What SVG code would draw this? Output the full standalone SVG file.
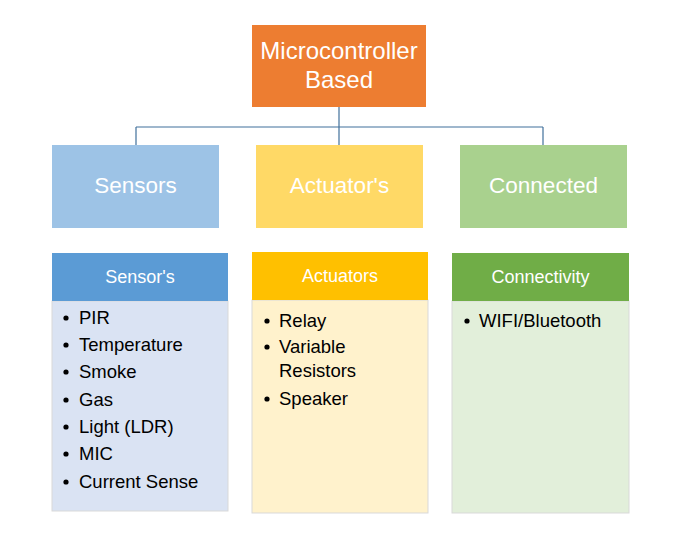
<svg xmlns="http://www.w3.org/2000/svg" width="690" height="548" viewBox="0 0 690 548">
<style>
.t{font-family:"Liberation Sans",Arial,sans-serif;fill:#ffffff;text-anchor:middle}
.root{font-size:24px}
.big{font-size:22.5px}
.hd{font-size:18px}
.it{font-family:"Liberation Sans",Arial,sans-serif;font-size:18.5px;fill:#000000}
.conn{stroke:#41719C;stroke-width:1.2;fill:none}
.body{stroke:#D9D9D9;stroke-width:1}
</style>
<rect width="690" height="548" fill="#ffffff"/>
<g id="connectors">
<path class="conn" d="M339,107 V127 M136,127 H543 M136,127 V145 M339,127 V145 M543,127 V145"/>
</g>
<g id="root">
<rect x="252" y="25" width="174" height="82" fill="#ED7D31"/>
<text class="t root" x="339" y="59">Microcontroller</text>
<text class="t root" x="339" y="88">Based</text>
</g>
<g id="sensors">
<rect x="52" y="145" width="167" height="83" fill="#9DC3E6"/>
<text class="t big" x="135.5" y="193">Sensors</text>
</g>
<g id="actuators">
<rect x="256" y="145" width="167" height="83" fill="#FFD966"/>
<text class="t big" x="339.5" y="193">Actuator's</text>
</g>
<g id="connected">
<rect x="460" y="145" width="167" height="83" fill="#A9D18E"/>
<text class="t big" x="543.5" y="193">Connected</text>
</g>
<g id="sensor-list">
<rect class="body" x="52" y="301" width="176" height="210" fill="#DAE3F3"/>
<rect x="52" y="253" width="176" height="48" fill="#5B9BD5"/>
<text class="t hd" x="140" y="283">Sensor's</text>
<g class="it">
<circle cx="66" cy="318" r="2.6"/><text x="79" y="324">PIR</text>
<circle cx="66" cy="345" r="2.6"/><text x="79" y="351">Temperature</text>
<circle cx="66" cy="372" r="2.6"/><text x="79" y="378">Smoke</text>
<circle cx="66" cy="400" r="2.6"/><text x="79" y="406">Gas</text>
<circle cx="66" cy="427" r="2.6"/><text x="79" y="433">Light (LDR)</text>
<circle cx="66" cy="454" r="2.6"/><text x="79" y="460">MIC</text>
<circle cx="66" cy="482" r="2.6"/><text x="79" y="488">Current Sense</text>
</g>
</g>
<g id="actuator-list">
<rect class="body" x="252" y="300" width="176" height="213" fill="#FFF2CC"/>
<rect x="252" y="252" width="176" height="48" fill="#FFC000"/>
<text class="t hd" x="340" y="282">Actuators</text>
<g class="it">
<circle cx="267" cy="321" r="2.6"/><text x="279" y="327">Relay</text>
<circle cx="267" cy="347" r="2.6"/><text x="279" y="353">Variable</text>
<text x="279" y="377">Resistors</text>
<circle cx="267" cy="399" r="2.6"/><text x="279" y="405">Speaker</text>
</g>
</g>
<g id="connectivity-list">
<rect class="body" x="452" y="301" width="177" height="212" fill="#E2EFDA"/>
<rect x="452" y="253" width="177" height="48" fill="#70AD47"/>
<text class="t hd" x="540.5" y="283">Connectivity</text>
<g class="it">
<circle cx="467" cy="321" r="2.6"/><text x="479" y="327">WIFI/Bluetooth</text>
</g>
</g>
</svg>
